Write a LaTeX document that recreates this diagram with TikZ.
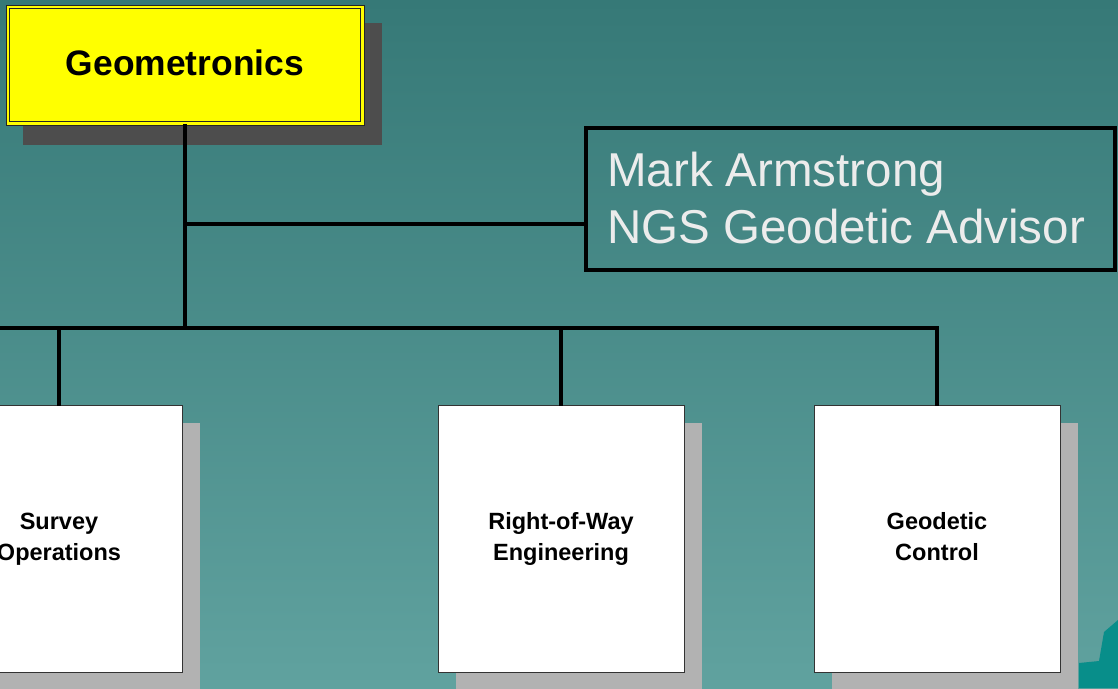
\documentclass[tikz,border=0pt]{standalone}
\usepackage{fontspec}
\setmainfont{Liberation Sans}
\usetikzlibrary{calc}
\definecolor{bgtop}{RGB}{54,121,119}
\definecolor{bgbot}{RGB}{96,162,159}
\definecolor{headfill}{RGB}{255,255,0}
\definecolor{headshadow}{RGB}{77,77,77}
\definecolor{unitshadow}{RGB}{178,178,178}
\definecolor{logoteal}{RGB}{8,142,138}
\definecolor{advtext}{RGB}{236,236,236}
\tikzset{
  wire/.style={line width=3.5pt, line cap=rect},
  unitbox/.style={draw=black!80, line width=1pt, fill=white, minimum width=246pt, minimum height=267pt,
    align=center, font=\bfseries\fontsize{23.5}{31}\selectfont, inner sep=0pt},
  unitshade/.style={fill=unitshadow, draw=none, minimum width=246pt, minimum height=267pt, inner sep=0pt},
}
\begin{document}
\begin{tikzpicture}[x=1pt,y=-1pt]
  % backdrop
  \useasboundingbox (0,0) rectangle (1118,688);
  \shade[top color=bgtop, bottom color=bgbot] (0,0) rectangle (1118,688);
  % corner graphic
  \fill[logoteal] (1079,688) -- (1079,663) -- (1099,661) -- (1104,632) -- (1118,620) -- (1118,688) -- cycle;

  % head unit
  \fill[headshadow] (23,23) rectangle (382,145);
  \node[draw=black!85, line width=1pt, fill=headfill, minimum width=358pt, minimum height=120pt, inner sep=0pt] (head) at (185,65) {};
  \draw[black!85, line width=1pt] ($(head.north west)+(4,4)$) rectangle ($(head.south east)+(-4,-4)$);
  \node[font=\bfseries\fontsize{35.4}{40}\selectfont] at (185,63) {Geometronics};

  % advisor
  \node[draw=black, line width=4.5pt, minimum width=529pt, minimum height=142pt, inner sep=0pt] (adv) at (850.5,199) {};
  \node[anchor=west, align=left, text=advtext, font=\fontsize{47.5}{57}\selectfont, inner sep=0pt]
        (advtxt) at (607,198) {Mark Armstrong\\NGS Geodetic Advisor};

  % units
  \node[unitshade] at (77,556.5) {};
  \node[unitshade] at (579,556.5) {};
  \node[unitshade] at (955,556.5) {};
  \node[unitbox] (survey) at (59,538.5) {Survey\strut\\Operations\strut};
  \node[unitbox] (row) at (561,538.5) {Right-of-Way\strut\\Engineering\strut};
  \node[unitbox] (geod) at (937,538.5) {Geodetic\strut\\Control\strut};

  % connectors
  \coordinate (bus) at (185,328);
  \coordinate (busL) at (-2,328);
  \coordinate (tap) at (185,224);
  \draw[wire] (head.south) -- (bus);
  \draw[wire] (tap) -- (adv.west |- tap);
  \draw[wire] (busL) -- (geod.north |- bus);
  \draw[wire] (survey.north |- bus) -- (survey.north);
  \draw[wire] (row.north |- bus) -- (row.north);
  \draw[wire] (geod.north |- bus) -- (geod.north);
\end{tikzpicture}
\end{document}
